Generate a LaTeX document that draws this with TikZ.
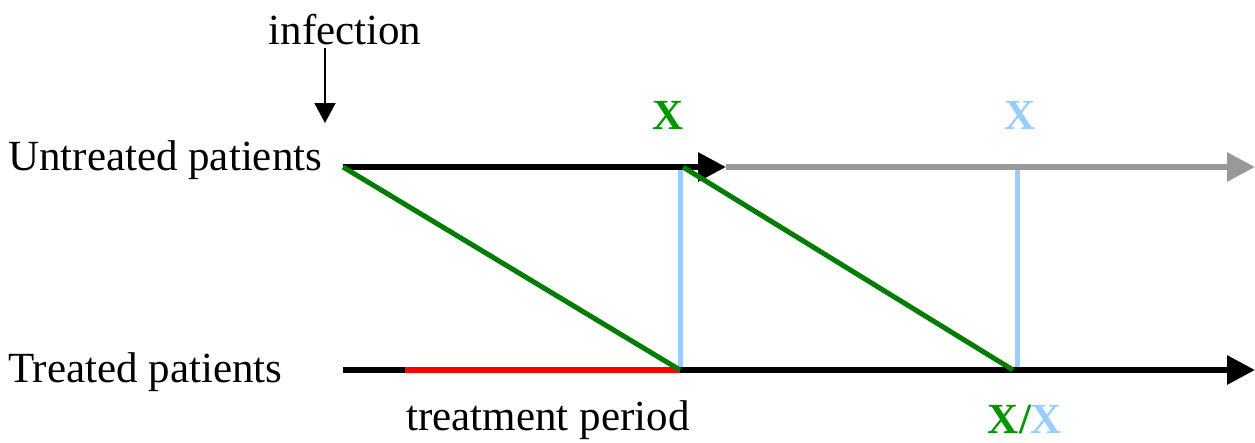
\documentclass[tikz,border=0pt]{standalone}
\usepackage{fontspec}
\setmainfont{Liberation Serif}
\usetikzlibrary{arrows.meta,positioning}

\definecolor{xgreen}{RGB}{0,150,0}
\definecolor{lgreen}{RGB}{0,125,0}
\definecolor{lblue}{RGB}{153,204,255}
\definecolor{lgray}{RGB}{153,153,153}

\begin{document}
\begin{tikzpicture}[
    x=1pt, y=-1pt,
    lbl/.style={font=\fontsize{43}{45}\selectfont, inner sep=0pt},
    xmark/.style={font=\fontsize{43}{45}\selectfont\bfseries, inner sep=0pt},
    timeline/.style={line width=6pt, -{Triangle[length=28pt,width=28pt]}},
    diag/.style={lgreen, line width=5pt},
    vline/.style={lblue, line width=5pt}
]
\useasboundingbox (0,0) rectangle (1255,442);

% Labels
\node[lbl] (infection) at (345,30) {infection};
\node[lbl, anchor=west] (untreated) at (8,160) {Untreated patients};
\node[lbl, anchor=west] (treated) at (8,372) {Treated patients};
\node[lbl] (period) at (548,420) {treatment period};

% Marks
\node[xmark, text=xgreen] (xone) at (668,115) {X};
\node[xmark, text=lblue] (xtwo) at (1020,115) {X};
\node[xmark] (xboth) at (1025,420) {\textcolor{xgreen}{X/}\textcolor{lblue}{X}};

% Points on the lines
\coordinate (ustart) at (343,167);
\coordinate (umid) at (726,167);
\coordinate (uend) at (1255,167);
\coordinate (uone) at (680,167);
\coordinate (utwo) at (1017,167);
\coordinate (tstart) at (343,370);
\coordinate (tred) at (405,370);
\coordinate (tone) at (680,370);
\coordinate (ttwo) at (1017,370);
\coordinate (tend) at (1255,370);
\coordinate (itop) at (325,48);
\coordinate (ibot) at (325,123);

% Infection arrow
\draw[line width=2pt, -{Triangle[length=20pt,width=21pt]}] (itop) -- (ibot);

% Vertical lines
\draw[vline] (uone) -- (tone);
\draw[vline] (utwo) -- (ttwo);

% Time lines
\draw[timeline, lgray] (umid) -- (uend);
\draw[timeline] (ustart) -- (umid);
\draw[timeline] (tstart) -- (tend);
\draw[line width=6pt, red] (tred) -- (tone);

% Diagonals
\draw[diag] (ustart) -- (tone);
\draw[diag] ([xshift=3pt]uone) -- ([xshift=-4pt]ttwo);

\end{tikzpicture}
\end{document}
